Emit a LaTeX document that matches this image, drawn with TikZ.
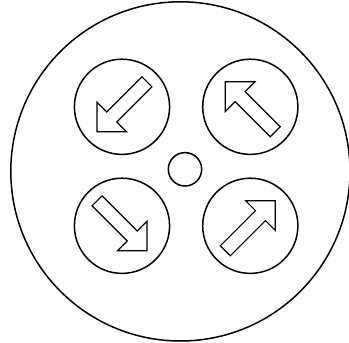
\documentclass[tikz,border=0pt]{standalone}
\begin{document}
\begin{tikzpicture}[x=1pt,y=-1pt,
  ring/.style={draw=black,line width=1.5pt},
  arrowshape/.style={draw=black,line width=1.2pt,line join=miter,fill=white}]
\useasboundingbox (0,0) rectangle (349,343);
% outer disc
\draw[ring] (180.4,171.4) circle[radius=169.6];
% centre hole
\draw[ring] (185,169.3) circle[radius=16.7];
% four small discs with arrows
\foreach \cx/\cy/\ang in {122/106.8/-135, 250.3/106.8/135, 122/225.8/-45, 250.3/225.8/45}{
  \draw[ring] (\cx,\cy) circle[radius=47.6];
  \begin{scope}[shift={(\cx,\cy)},rotate=\ang]
    \draw[arrowshape] (35.3,0) -- (14.4,20.9) -- (14.4,7.07) -- (-35.3,7.07)
      -- (-35.3,-7.07) -- (14.4,-7.07) -- (14.4,-20.9) -- cycle;
  \end{scope}
}
\end{tikzpicture}
\end{document}
